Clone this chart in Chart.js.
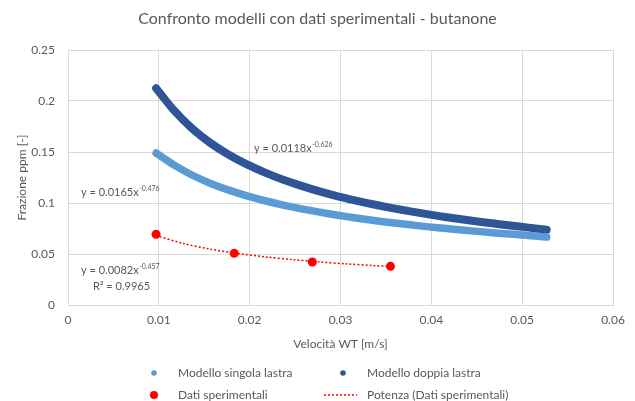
<!DOCTYPE html>
<html>
<head>
<meta charset="utf-8">
<script src="https://cdn.jsdelivr.net/npm/chart.js@4.4.1/dist/chart.umd.min.js"></script>
<style>
  html, body { margin: 0; padding: 0; background: #fff; }
  #wrap { position: relative; width: 635px; height: 401px; }
</style>
</head>
<body>
<div id="wrap"><canvas id="graph" width="635" height="401"></canvas></div>
<script>
// velocita WT [m/s] per i due modelli
const velocita = [0.0097, 0.0117, 0.0137, 0.0157, 0.0177, 0.0197, 0.0217, 0.0237, 0.0257, 0.0277,
  0.0297, 0.0317, 0.0337, 0.0357, 0.0377, 0.0397, 0.0417, 0.0437, 0.0457, 0.0477, 0.0497, 0.0517, 0.0527];
const singolaLastra = [0.1490, 0.1371, 0.1272, 0.1192, 0.1126, 0.1070, 0.1022, 0.0980, 0.0943, 0.0910,
  0.0880, 0.0853, 0.0828, 0.0806, 0.0786, 0.0766, 0.0749, 0.0732, 0.0717, 0.0702, 0.0689, 0.0674, 0.0666];
const doppiaLastra = [0.2125, 0.1905, 0.1728, 0.1587, 0.1473, 0.1378, 0.1298, 0.1228, 0.1168, 0.1114,
  0.1066, 0.1024, 0.0985, 0.0950, 0.0918, 0.0888, 0.0860, 0.0835, 0.0812, 0.0790, 0.0769, 0.0748, 0.0738];

// dati sperimentali
const velocitaSper = [0.0097, 0.0183, 0.0269, 0.0355];
const datiSper = [0.0693, 0.0507, 0.0422, 0.0379];

// linea di tendenza (potenza)
const velocitaTrend = [0.0097, 0.0127, 0.0157, 0.0187, 0.0217, 0.0247, 0.0277, 0.0307, 0.0337, 0.0355];
const potenzaTrend = [0.0682, 0.0603, 0.0547, 0.0505, 0.0472, 0.0445, 0.0422, 0.0403, 0.0386, 0.0377];

const xTicks = [0, 0.01, 0.02, 0.03, 0.04, 0.05, 0.06];
const yTicks = [0, 0.05, 0.1, 0.15, 0.2, 0.25];

const titolo = 'Confronto modelli con dati sperimentali - butanone';
const grey = '#595959';
const font = 'Lato';

const pts = (xs, ys) => xs.map((x, i) => ({ x: x, y: ys[i] }));
const fmt = v => String(Number(v.toFixed(3)));

// etichette delle equazioni (ancorate in unita' dati)
const eqLabels = [
  { x: 0.02048, y: 0.1539, text: 'y = 0.0118x', sup: '-0.626' },
  { x: 0.00143, y: 0.1108, text: 'y = 0.0165x', sup: '-0.476' },
  { x: 0.00143, y: 0.0343, text: 'y = 0.0082x', sup: '-0.457' },
  { x: 0.00275, y: 0.0186, text: 'R² = 0.9965', sup: '' }
];

const annotations = {
  id: 'annotations',
  afterDatasetsDraw(chart) {
    const ctx = chart.ctx;
    const xs = chart.scales.x, ys = chart.scales.y;
    ctx.save();
    ctx.fillStyle = grey;
    ctx.textBaseline = 'middle';
    ctx.textAlign = 'left';
    eqLabels.forEach(l => {
      const px = xs.getPixelForValue(l.x), py = ys.getPixelForValue(l.y);
      ctx.font = '11px ' + font;
      ctx.fillText(l.text, px, py);
      if (l.sup) {
        const w = ctx.measureText(l.text).width;
        ctx.font = '7px ' + font;
        ctx.fillText(l.sup, px + w + 0.5, py - 3);
      }
    });
    ctx.restore();
  },
  afterDraw(chart) {
    const ctx = chart.ctx;
    // titolo centrato sull'intera tela
    ctx.save();
    ctx.fillStyle = grey;
    ctx.textAlign = 'center';
    ctx.textBaseline = 'middle';
    ctx.font = '16px ' + font;
    ctx.fillText(titolo, chart.width / 2, 19);
    ctx.restore();

    // legenda a due colonne
    const ds = chart.data.datasets;
    const items = [
      { d: ds[0], col: 0, row: 0, kind: 'dot', r: 2.8 },
      { d: ds[1], col: 1, row: 0, kind: 'dot', r: 2.8 },
      { d: ds[3], col: 0, row: 1, kind: 'dot', r: 4 },
      { d: ds[2], col: 1, row: 1, kind: 'line' }
    ];
    const colText = [178, 367], colDot = [154, 343], rowY = [373, 395];
    ctx.save();
    ctx.textBaseline = 'middle';
    ctx.textAlign = 'left';
    ctx.font = '12px ' + font;
    items.forEach(it => {
      const tx = colText[it.col], y = rowY[it.row];
      if (it.kind === 'dot') {
        ctx.fillStyle = it.d.backgroundColor;
        ctx.beginPath();
        ctx.arc(colDot[it.col], y, it.r, 0, Math.PI * 2);
        ctx.fill();
      } else {
        ctx.strokeStyle = it.d.borderColor;
        ctx.lineWidth = 1.5;
        ctx.setLineDash([2, 2]);
        ctx.beginPath();
        ctx.moveTo(tx - 43, y);
        ctx.lineTo(tx - 10, y);
        ctx.stroke();
        ctx.setLineDash([]);
      }
      ctx.fillStyle = grey;
      ctx.fillText(it.d.label, tx, y);
    });
    ctx.restore();
  }
};

new Chart(document.getElementById('graph'), {
  type: 'scatter',
  data: {
    datasets: [
      {
        label: 'Modello singola lastra',
        data: pts(velocita, singolaLastra),
        showLine: true,
        borderColor: '#5B9BD5',
        backgroundColor: '#5B9BD5',
        borderWidth: 7.5,
        borderCapStyle: 'round',
        borderJoinStyle: 'round',
        pointRadius: 0,
        tension: 0.3
      },
      {
        label: 'Modello doppia lastra',
        data: pts(velocita, doppiaLastra),
        showLine: true,
        borderColor: '#2F5597',
        backgroundColor: '#2F5597',
        borderWidth: 8,
        borderCapStyle: 'round',
        borderJoinStyle: 'round',
        pointRadius: 0,
        tension: 0.3
      },
      {
        label: 'Potenza (Dati sperimentali)',
        data: pts(velocitaTrend, potenzaTrend),
        showLine: true,
        borderColor: '#FF0000',
        backgroundColor: '#FF0000',
        borderWidth: 1.5,
        borderDash: [2, 2],
        pointRadius: 0,
        tension: 0.3
      },
      {
        label: 'Dati sperimentali',
        data: pts(velocitaSper, datiSper),
        showLine: false,
        borderColor: '#FF0000',
        backgroundColor: '#FF0000',
        pointRadius: 4.5,
        pointBorderWidth: 0
      }
    ]
  },
  options: {
    responsive: false,
    animation: false,
    devicePixelRatio: 1,
    layout: { padding: { left: 0, right: 22, top: 50, bottom: 46 } },
    plugins: {
      legend: { display: false },
      tooltip: { enabled: false },
      title: { display: false }
    },
    scales: {
      x: {
        type: 'linear',
        min: 0,
        max: 0.06,
        afterBuildTicks: s => { s.ticks = xTicks.map(v => ({ value: v })); },
        afterFit: s => { s.height = 50; },
        grid: { color: '#D9D9D9', drawTicks: false },
        border: { color: '#D9D9D9' },
        ticks: { padding: 8, color: grey, font: { family: font, size: 12 }, callback: v => fmt(v) },
        title: { display: true, text: 'Velocità WT [m/s]', color: grey, font: { family: font, size: 12 }, padding: { top: 6 } }
      },
      y: {
        min: 0,
        max: 0.25,
        afterBuildTicks: s => { s.ticks = yTicks.map(v => ({ value: v })); },
        afterFit: s => { s.width = 68; },
        grid: { color: '#D9D9D9', drawTicks: false },
        border: { color: '#D9D9D9' },
        ticks: { padding: 13, color: grey, font: { family: font, size: 12 }, callback: v => fmt(v) },
        title: { display: true, text: 'Frazione ppm [-]', color: grey, font: { family: font, size: 12 }, padding: { top: 15 } }
      }
    }
  },
  plugins: [annotations]
});
</script>
</body>
</html>
